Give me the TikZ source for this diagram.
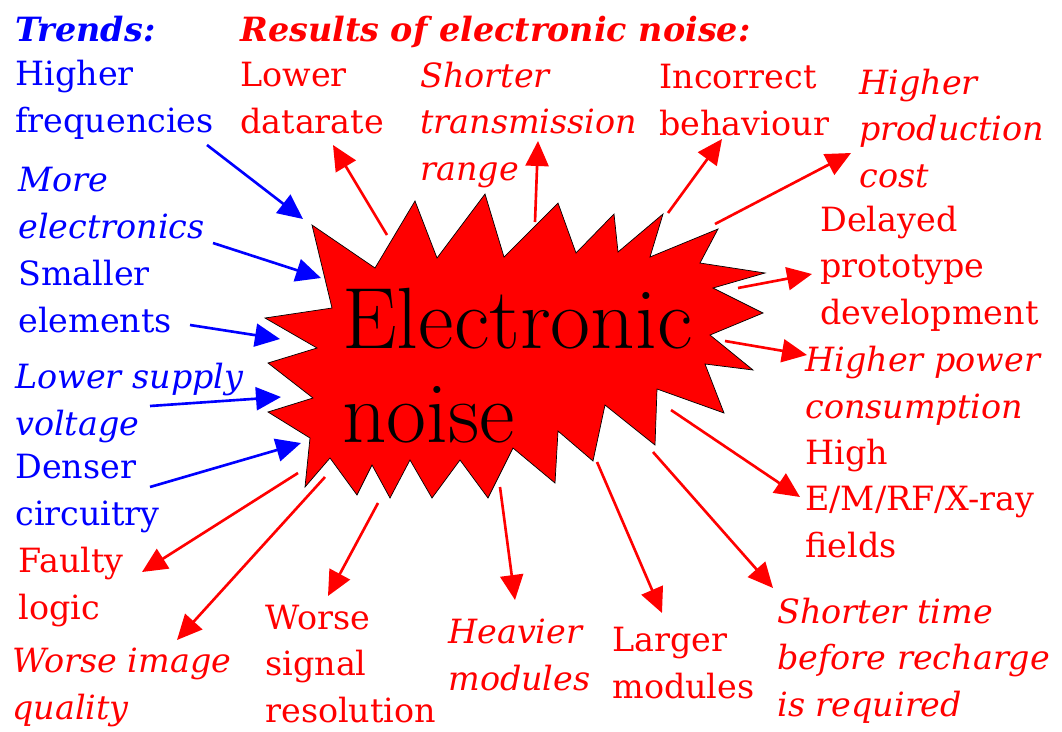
\documentclass[tikz,border=0pt]{standalone}
\usepackage{fontspec}
\usepackage{tikz}
\usetikzlibrary{arrows.meta}
\newfontfamily\labelfont{DejaVu Serif}
\definecolor{trend}{HTML}{0000FF}
\definecolor{result}{HTML}{FF0000}

\begin{document}
\begin{tikzpicture}[x=0.02cm,y=-0.02cm,
    lbl/.style={anchor=base west,inner sep=0pt,align=left,font={\labelfont\fontsize{19}{26.4}\selectfont}},
    ilbl/.style={lbl,font={\labelfont\itshape\fontsize{19}{26.4}\selectfont}},
    head/.style={lbl,font={\labelfont\bfseries\itshape\fontsize{19}{26.4}\selectfont}},
    arr/.style={-{Triangle[length=0.5cm,width=0.46cm]},line width=1.5pt}]
    \useasboundingbox (0,0) rectangle (1062,731);
    % the burst
    \filldraw[fill=result,draw=black,line width=0.4pt] (312,225) -- (375,268) -- (415,201) -- (437,258) -- (485,194) -- (504,257)
      -- (558,203) -- (576,253) -- (614,214) -- (618,252) -- (663,214) -- (650,257) -- (718,229) -- (700,263)
      -- (765,273) -- (713,288) -- (763,313) -- (710,335) -- (753,370) -- (705,364) -- (724,413) -- (657,389)
      -- (655,445) -- (605,405) -- (593,461) -- (558,431) -- (555,483) -- (513,448) -- (488,498) -- (460,460)
      -- (432,498) -- (410,460) -- (390,498) -- (372,465) -- (357,495) -- (330,458) -- (305,487) -- (310,438)
      -- (268,412) -- (313,398) -- (268,363) -- (317,348) -- (265,318) -- (332,308) -- cycle;
    \node[anchor=base west,inner sep=0pt,align=left,font=\fontsize{49.5}{53.5}\selectfont] (noise) at (342,442) {Electronic\\noise};
    % trends
    \node[head,trend] (trends) at (15,41) {Trends:};
    \node[lbl,trend] (freq) at (15,132) {Higher\\frequencies};
    \node[ilbl,trend] (moreel) at (18,238) {More\\electronics};
    \node[lbl,trend] (small) at (18,332) {Smaller\\elements};
    \node[ilbl,trend] (supply) at (15,435) {Lower supply\\voltage};
    \node[lbl,trend] (dense) at (15,525) {Denser\\circuitry};
    % results
    \node[head,result] (results) at (240,41) {Results of electronic noise:};
    \node[lbl,result] (datarate) at (240,133) {Lower\\datarate};
    \node[ilbl,result] (range) at (420,180) {Shorter\\transmission\\range};
    \node[lbl,result] (behav) at (659,135) {Incorrect\\behaviour};
    \node[ilbl,result] (cost) at (859,187) {Higher\\production\\cost};
    \node[lbl,result] (proto) at (820,324) {Delayed\\prototype\\development};
    \node[ilbl,result] (power) at (805,418) {Higher power\\consumption};
    \node[lbl,result] (fields) at (805,557) {High\\E/M/RF/X-ray\\fields};
    \node[ilbl,result] (recharge) at (777,716) {Shorter time\\before recharge\\is required};
    \node[lbl,result] (larger) at (612,698) {Larger\\modules};
    \node[ilbl,result] (heavy) at (448,690) {Heavier\\modules};
    \node[lbl,result] (signal) at (265,722) {Worse\\signal\\resolution};
    \node[ilbl,result] (image) at (12,719) {Worse image\\quality};
    \node[lbl,result] (logic) at (18,619) {Faulty\\logic};
    % arrow ends
    \coordinate (freq-s) at (207,145);  \coordinate (freq-e) at (303,219);
    \coordinate (moreel-s) at (213,243); \coordinate (moreel-e) at (321,278);
    \coordinate (small-s) at (190,325); \coordinate (small-e) at (280,339);
    \coordinate (supply-s) at (150,406); \coordinate (supply-e) at (281,397);
    \coordinate (dense-s) at (150,487); \coordinate (dense-e) at (301,443);
    \coordinate (datarate-s) at (387,235); \coordinate (datarate-e) at (333,145);
    \coordinate (range-s) at (535,222); \coordinate (range-e) at (538,141);
    \coordinate (behav-s) at (668,213); \coordinate (behav-e) at (722,139);
    \coordinate (cost-s) at (715,224); \coordinate (cost-e) at (851,153);
    \coordinate (proto-s) at (738,288); \coordinate (proto-e) at (812,274);
    \coordinate (power-s) at (725,341); \coordinate (power-e) at (807,355);
    \coordinate (fields-s) at (671,410); \coordinate (fields-e) at (800,497);
    \coordinate (recharge-s) at (653,452); \coordinate (recharge-e) at (773,588);
    \coordinate (larger-s) at (597,462); \coordinate (larger-e) at (662,613);
    \coordinate (heavy-s) at (500,487); \coordinate (heavy-e) at (515,600);
    \coordinate (signal-s) at (378,503); \coordinate (signal-e) at (328,596);
    \coordinate (image-s) at (325,477); \coordinate (image-e) at (177,640);
    \coordinate (logic-s) at (298,473); \coordinate (logic-e) at (142,572);
    \draw[arr,trend] (freq-s) -- (freq-e);
    \draw[arr,trend] (moreel-s) -- (moreel-e);
    \draw[arr,trend] (small-s) -- (small-e);
    \draw[arr,trend] (supply-s) -- (supply-e);
    \draw[arr,trend] (dense-s) -- (dense-e);
    \draw[arr,result] (datarate-s) -- (datarate-e);
    \draw[arr,result] (range-s) -- (range-e);
    \draw[arr,result] (behav-s) -- (behav-e);
    \draw[arr,result] (cost-s) -- (cost-e);
    \draw[arr,result] (proto-s) -- (proto-e);
    \draw[arr,result] (power-s) -- (power-e);
    \draw[arr,result] (fields-s) -- (fields-e);
    \draw[arr,result] (recharge-s) -- (recharge-e);
    \draw[arr,result] (larger-s) -- (larger-e);
    \draw[arr,result] (heavy-s) -- (heavy-e);
    \draw[arr,result] (signal-s) -- (signal-e);
    \draw[arr,result] (image-s) -- (image-e);
    \draw[arr,result] (logic-s) -- (logic-e);
\end{tikzpicture}
\end{document}
